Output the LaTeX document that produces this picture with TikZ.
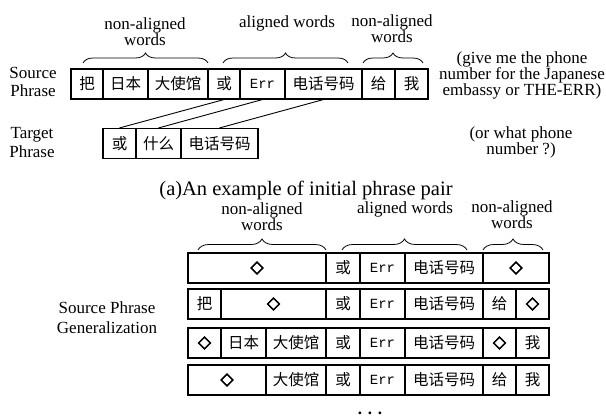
\documentclass[tikz,border=0pt]{standalone}
\usepackage{fontspec}
\setmainfont{Liberation Serif}
\newfontfamily\cjk{Noto Sans CJK SC}
\newfontfamily\monof{Liberation Mono}
\newfontfamily\symf[FakeBold=3]{DejaVu Sans}
\usetikzlibrary{decorations.pathreplacing}
\newcommand\zh[1]{{\cjk\fontsize{15.5}{16}\selectfont #1}}
\newcommand\er{{\monof\fontsize{14}{16}\selectfont Err}}
\newcommand\dm{{\symf\fontsize{17}{16}\selectfont ◇}}
\newcommand\mycell[5]{\node[cell, minimum width={(#3-#2)*1pt}] (#1) at ({(#2+#3)/2},#4) {#5};}
\begin{document}
\begin{tikzpicture}[x=1pt,y=-1pt,
  cell/.style={draw, line width=1.1pt, inner sep=0pt, minimum height=30pt},
  lab/.style={align=center, font=\fontsize{17}{16}\selectfont, inner sep=0pt},
  brc/.style={decorate, decoration={brace, amplitude=#1}, line width=0.8pt},
  link/.style={line width=0.9pt}]
\useasboundingbox (0,0) rectangle (606,417);
% ---- top: initial phrase pair
\mycell{s1}{71}{103}{84}{\zh{把}}
\mycell{s2}{103}{148}{84}{\zh{日本}}
\mycell{s3}{148}{208}{84}{\zh{大使馆}}
\mycell{s4}{208}{240}{84}{\zh{或}}
\mycell{s5}{240}{285}{84}{\er}
\mycell{s6}{285}{362}{84}{\zh{电话号码}}
\mycell{s7}{362}{395}{84}{\zh{给}}
\mycell{s8}{395}{428}{84}{\zh{我}}
\mycell{t1}{103}{136}{143.5}{\zh{或}}
\mycell{t2}{136}{181}{143.5}{\zh{什么}}
\mycell{t3}{181}{258}{143.5}{\zh{电话号码}}
\draw[link] (s4.south) -- (t1.north);
\draw[link] (s5.south) -- (t2.north);
\draw[link] (s6.south) -- (t3.north);
\coordinate (b1a) at (83,63); \coordinate (b1b) at (208,63);
\coordinate (b2a) at (223,63); \coordinate (b2b) at (348,63);
\coordinate (b3a) at (363,63); \coordinate (b3b) at (423,63);
\draw[brc=10pt] (b1a) -- (b1b);
\draw[brc=10pt] (b2a) -- (b2b);
\draw[brc=10pt] (b3a) -- (b3b);
\node[lab] (na1) at (145,32) {non-aligned\\words};
\node[lab] (al1) at (287,23) {aligned words};
\node[lab] (na2) at (392,29) {non-aligned\\words};
\node[lab, font=\fontsize{17}{18}\selectfont] (sp) at (33,82) {Source\\Phrase};
\node[lab, font=\fontsize{17}{19}\selectfont] (tp) at (32,143) {Target\\Phrase};
\node[lab] (en1) at (522,75) {(give me the phone\\number for the Japanese\\embassy or THE-ERR)};
\node[lab] (en2) at (521,142) {(or what phone\\number ?)};
\node[lab, font=\fontsize{20.5}{22}\selectfont] (cap) at (306,190) {(a)An example of initial phrase pair};
% ---- bottom: generalization
\mycell{a1}{188}{326}{268}{\dm}
\mycell{a2}{326}{360}{268}{\zh{或}}
\mycell{a3}{360}{405}{268}{\er}
\mycell{a4}{405}{483}{268}{\zh{电话号码}}
\mycell{a5}{483}{549}{268}{\dm}
\mycell{c1}{188}{221}{304}{\zh{把}}
\mycell{c2}{221}{326}{304}{\dm}
\mycell{c3}{326}{360}{304}{\zh{或}}
\mycell{c4}{360}{405}{304}{\er}
\mycell{c5}{405}{483}{304}{\zh{电话号码}}
\mycell{c6}{483}{516}{304}{\zh{给}}
\mycell{c7}{516}{549}{304}{\dm}
\mycell{d1}{188}{221}{343}{\dm}
\mycell{d2}{221}{266}{343}{\zh{日本}}
\mycell{d3}{266}{326}{343}{\zh{大使馆}}
\mycell{d4}{326}{360}{343}{\zh{或}}
\mycell{d5}{360}{405}{343}{\er}
\mycell{d6}{405}{483}{343}{\zh{电话号码}}
\mycell{d7}{483}{516}{343}{\dm}
\mycell{d8}{516}{549}{343}{\zh{我}}
\mycell{e1}{188}{266}{380}{\dm}
\mycell{e2}{266}{326}{380}{\zh{大使馆}}
\mycell{e3}{326}{360}{380}{\zh{或}}
\mycell{e4}{360}{405}{380}{\er}
\mycell{e5}{405}{483}{380}{\zh{电话号码}}
\mycell{e6}{483}{516}{380}{\zh{给}}
\mycell{e7}{516}{549}{380}{\zh{我}}
\coordinate (g1a) at (198,250); \coordinate (g1b) at (326,250);
\coordinate (g2a) at (342,250); \coordinate (g2b) at (467,250);
\coordinate (g3a) at (483,250); \coordinate (g3b) at (543,250);
\draw[brc=11pt] (g1a) -- (g1b);
\draw[brc=11pt] (g2a) -- (g2b);
\draw[brc=11pt] (g3a) -- (g3b);
\node[lab] (na3) at (262,217) {non-aligned\\words};
\node[lab] (al2) at (405,209) {aligned words};
\node[lab] (na4) at (512,215) {non-aligned\\words};
\node[lab, font=\fontsize{17}{20}\selectfont] (spg) at (107,318) {Source Phrase\\Generalization};
\node[anchor=base, inner sep=0pt, text depth=0pt, font=\fontsize{17}{17}\selectfont\bfseries] (dots) at (370,414.5) {.\,\,.\,\,.};
\end{tikzpicture}
\end{document}
